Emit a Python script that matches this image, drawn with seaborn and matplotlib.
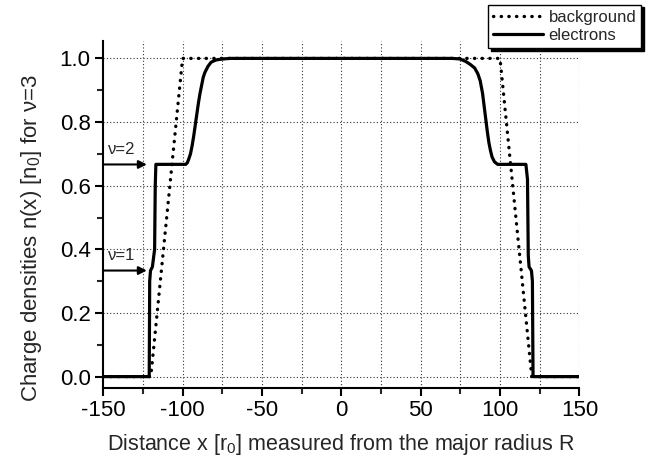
import numpy as np
import pandas as pd
import seaborn as sns
import matplotlib.pyplot as plt
from matplotlib.ticker import MultipleLocator

# 数据：背景电荷（梯形）与电子密度
bg_x = [-150, -120, -100, 100, 120, 150]
bg_n = [0, 0, 1, 1, 0, 0]

el_x = [-150, -121.0, -120.7, -120.2, -119.0, -117.6, -117.2, -116.8,
        -98.0, -97.0, -96.0, -95.0, -94.0, -93.0, -92.0, -91.0, -90.0,
        -89.0, -88.0, -87.0, -86.0, -84.0, -82.0, -79.0, -75.0, -70.0,
        70.0, 75.0, 78.5, 81.0, 84.0, 86.0, 87.5, 89.0, 90.0, 91.0, 92.0,
        93.0, 94.0, 95.0, 96.5, 98.5,
        116.3, 117.3, 117.8, 118.3, 119.8, 120.4, 120.8, 150]
el_n = [0, 0, 0.30, 0.333, 0.345, 0.40, 0.60, 0.667,
        0.667, 0.672, 0.685, 0.70, 0.725, 0.755, 0.79, 0.825, 0.86,
        0.89, 0.915, 0.94, 0.955, 0.975, 0.988, 0.995, 0.998, 1.0,
        1.0, 0.998, 0.99, 0.982, 0.97, 0.952, 0.93, 0.89, 0.85, 0.81, 0.77,
        0.735, 0.71, 0.69, 0.675, 0.667,
        0.667, 0.62, 0.38, 0.345, 0.333, 0.30, 0, 0]

# 填充因子箭头标注
nu_labels = ['ν=2', 'ν=1']
nu_levels = [2 / 3, 1 / 3]

bg = pd.DataFrame({'x': bg_x, 'n': bg_n})
el = pd.DataFrame({'x': el_x, 'n': el_n})

sns.set_style('ticks')
plt.rcParams['font.family'] = ['Liberation Sans', 'DejaVu Sans']
plt.rcParams['mathtext.default'] = 'regular'
plt.rcParams['axes.unicode_minus'] = False

fig = plt.figure(figsize=(6.51, 4.70), dpi=100)
ax = fig.add_axes([0.1585, 0.175, 0.7315, 0.738])

# 网格：x 每25一条，y 每0.2一条
for gx in np.arange(-125, 151, 25):
    ax.axvline(gx, color='#333333', lw=0.8, ls=(0, (1, 2)), zorder=0)
for gy in np.arange(0, 1.01, 0.2):
    ax.axhline(gy, color='#333333', lw=0.8, ls=(0, (1, 2)), zorder=0)

sns.lineplot(data=bg, x='x', y='n', ax=ax, color='black', lw=2.4,
             estimator=None, sort=False, label='background')
ax.lines[-1].set_linestyle((0, (0.1, 2.2)))
ax.lines[-1].set_dash_capstyle('round')
sns.lineplot(data=el, x='x', y='n', ax=ax, color='black', lw=2.3,
             estimator=None, sort=False, label='electrons')

# 箭头与 ν 标注
for lab, lev in zip(nu_labels, nu_levels):
    ax.annotate('', xy=(-122.5, lev), xytext=(-150, lev),
                arrowprops=dict(arrowstyle='-|>', color='black', lw=1.5,
                                mutation_scale=12, shrinkA=0, shrinkB=0))
    ax.text(-147, lev + 0.025, lab, fontsize=12, ha='left', va='bottom')

ax.set_xlim(-150, 150)
ax.set_ylim(-0.035, 1.055)
ax.xaxis.set_major_locator(MultipleLocator(50))
ax.xaxis.set_minor_locator(MultipleLocator(25))
ax.yaxis.set_major_locator(MultipleLocator(0.2))
ax.yaxis.set_minor_locator(MultipleLocator(0.1))
ax.yaxis.set_major_formatter(plt.FormatStrFormatter('%.1f'))
ax.tick_params(which='major', direction='out', length=6, width=1.5,
               labelsize=16, colors='black', pad=3)
ax.tick_params(which='minor', direction='out', length=4, width=1.5)
for s in ['top', 'right']:
    ax.spines[s].set_visible(False)
for s in ['left', 'bottom']:
    ax.spines[s].set_linewidth(1.5)
    ax.spines[s].set_color('black')

ax.set_xlabel('Distance x [r$_0$] measured from the major radius R',
              fontsize=15.5, labelpad=8)
ax.set_ylabel('Charge densities n(x) [n$_0$] for ν=3', fontsize=16)
ax.yaxis.set_label_coords(-0.125, 0.43)

handles, labels = ax.get_legend_handles_labels()
ax.get_legend().remove()
fig.legend(handles, labels, loc='upper right', bbox_to_anchor=(0.985, 0.99),
           fontsize=12, frameon=True, fancybox=False, edgecolor='black',
           framealpha=1, borderaxespad=0, handlelength=3.0,
           borderpad=0.3, labelspacing=0.2, handletextpad=0.3,
           shadow={'color': 'black', 'alpha': 1})

plt.savefig('out.png', dpi=100)
